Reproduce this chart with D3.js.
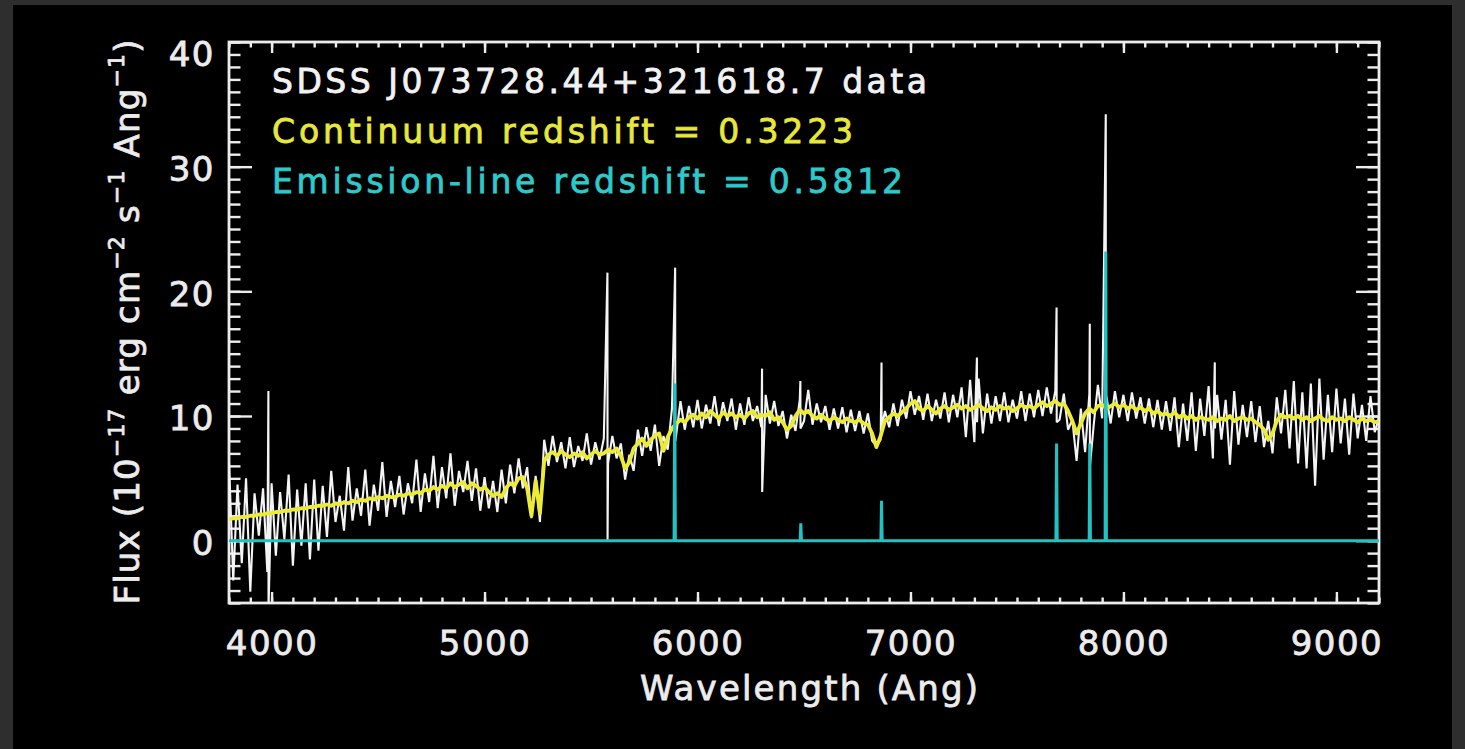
<!DOCTYPE html>
<html><head><meta charset="utf-8">
<script src="https://cdn.jsdelivr.net/npm/d3@7"></script>
<style>html,body{margin:0;padding:0;background:#2e2e2e;} svg{display:block}</style>
</head><body>
<svg id="c" width="1465" height="749"></svg>
<script>
// ---------------- DATA ----------------
const waveStart = 3800, waveStep = 20;   // observed-frame wavelength grid (Ang)
const dataFlux = [
  6.3,-3.2,4.5,-1.8,5.0,-4.1,3.8,0.4,4.2,-2.5,
  4.6,-1.2,3.9,0.1,5.3,-2.0,4.1,-0.4,4.6,-1.5,
  4.9,-0.8,4.4,0.3,5.6,1.5,3.6,0.8,5.9,1.6,
  4.2,2.0,5.7,1.2,4.5,2.4,6.3,1.9,4.8,2.7,
  5.2,2.1,4.6,3.0,6.5,2.3,5.4,3.1,6.8,2.6,
  5.9,3.4,7.0,2.8,5.6,3.9,6.4,3.2,5.8,2.4,
  5.1,2.6,4.8,2.3,5.7,3.0,6.1,3.8,6.6,4.2,
  5.9,1.8,5.2,1.5,8.1,6.0,8.4,6.3,7.9,5.8,
  8.3,5.9,7.6,6.4,8.6,6.1,7.9,6.5,8.2,6.2,
  8.4,6.6,7.8,4.9,6.9,5.6,8.9,6.8,9.1,7.2,
  9.3,6.0,8.4,7.3,10.6,8.5,11.2,8.9,10.8,9.1,
  11.3,9.0,10.9,9.4,11.6,9.2,11.1,9.6,11.4,8.9,
  11.0,9.3,11.5,9.6,10.8,9.1,11.7,9.4,11.2,9.2,
  10.4,8.2,10.1,8.8,11.3,9.6,12.1,9.3,11.0,9.5,
  10.8,8.9,10.6,9.0,10.7,8.7,10.5,8.8,10.4,8.6,
  10.2,8.0,7.6,8.1,10.4,9.1,11.0,9.2,11.3,9.8,
  12.0,10.1,11.6,9.7,11.8,9.6,11.3,9.8,11.9,9.5,
  11.7,9.9,12.3,8.3,12.9,7.9,13.0,8.6,11.8,9.4,
  11.6,9.6,11.9,9.5,11.3,9.8,12.0,9.6,11.8,9.9,
  12.1,10.0,12.3,10.2,12.0,9.7,11.8,8.9,9.7,6.4,
  10.6,7.1,11.8,9.2,12.5,9.8,11.6,9.4,12.0,9.9,
  11.7,9.6,11.9,9.8,11.5,9.4,11.4,9.1,11.3,8.9,
  11.2,8.8,11.5,7.5,11.0,8.0,11.9,7.2,11.4,8.4,
  12.4,6.6,11.7,8.1,11.3,6.1,12.0,7.7,10.9,8.3,
  11.2,7.9,10.8,7.5,9.6,7.0,11.5,8.6,12.1,7.4,
  12.8,6.2,11.9,5.8,12.6,4.4,13.0,6.5,11.7,7.1,
  12.2,7.8,11.4,6.9,11.8,8.2,10.9,8.0,11.6,8.7,
  9.9
];
// narrow spikes (sky lines / emission) in the data
const spikeWave = [3985, 5577, 5895, 6303, 6483, 6864, 7312, 7686, 7842, 7917, 8429];
const spikeHigh = [12.0, 21.5, 21.9, 13.8, 12.8, 14.3, 14.7, 18.7, 17.4, 34.2, 14.3];
const spikeLow  = [-5.5, 0.0, 8.0, 3.9, 9.0, 9.0, 9.5, 9.5, 6.0, 9.5, 9.0];

const contFlux = [
  1.7,1.8,1.8,1.9,1.9,2.0,2.0,2.1,2.1,2.2,
  2.2,2.3,2.3,2.4,2.4,2.5,2.5,2.6,2.6,2.7,
  2.7,2.8,2.8,2.9,2.8,3.0,2.9,3.1,3.0,3.2,
  3.1,3.3,3.2,3.4,3.3,3.5,3.4,3.6,3.5,3.5,
  3.7,3.6,3.8,3.7,3.9,3.8,4.1,4.0,4.3,4.1,
  4.4,4.2,4.6,4.3,4.5,4.7,4.2,4.6,4.4,4.1,
  4.3,3.9,3.6,3.8,3.5,4.2,4.6,4.4,5.0,5.1,
  4.2,2.0,4.8,2.2,6.4,6.9,7.1,6.8,7.2,6.9,
  6.7,7.0,6.8,7.1,6.6,6.9,7.2,6.9,7.0,7.3,
  7.1,7.4,6.8,5.8,6.3,7.4,7.8,8.2,7.6,8.1,
  8.4,8.6,7.2,8.3,9.0,9.4,9.7,9.5,9.9,10.1,
  9.8,10.2,9.9,10.4,10.1,9.8,10.3,10.0,10.2,9.9,
  10.1,9.8,10.2,10.4,9.9,10.1,10.0,10.3,9.7,9.9,
  9.5,8.9,9.2,10.0,10.5,10.2,10.4,10.0,9.8,10.1,
  9.8,9.6,9.9,9.7,9.5,9.8,9.6,9.5,9.7,9.4,
  9.3,8.6,7.5,8.4,9.6,9.9,10.2,10.0,10.3,10.6,
  11.0,11.2,10.6,10.4,10.8,10.5,10.2,10.6,10.8,10.5,
  10.7,10.9,10.6,10.8,10.5,10.7,10.9,10.6,10.4,10.7,
  10.5,10.8,10.6,10.7,10.4,10.6,10.9,10.7,10.8,10.6,
  10.9,11.1,10.8,11.0,11.2,10.9,11.0,10.4,9.6,8.6,
  9.4,10.2,10.6,10.3,10.8,10.9,10.6,10.8,11.0,10.7,
  10.9,10.6,10.8,10.5,10.7,10.4,10.6,10.2,10.4,10.1,
  10.2,10.0,10.3,9.9,10.1,9.8,10.0,9.7,9.9,9.8,
  9.7,9.9,9.6,9.8,9.7,10.0,9.6,9.8,9.9,9.7,
  9.8,9.5,9.3,8.9,8.1,8.6,9.6,10.1,9.9,10.0,
  9.8,10.0,9.7,9.9,9.6,9.8,10.0,9.7,9.6,9.9,
  9.7,9.8,9.6,9.9,9.7,9.5,9.8,9.6,9.7,9.5,
  9.6
];
// emission-line model at z = 0.5812
const lineWave = [5893, 6485, 6864, 7686, 7842, 7917];
const lineFlux = [12.6, 1.4, 3.2, 7.8, 7.8, 23.2];

const xDomain = [3800, 9200];
const yDomain = [-5, 40];
const xMajorTicks = [4000, 5000, 6000, 7000, 8000, 9000];
const yMajorTicks = [0, 10, 20, 30, 40];
const infoLines = ["SDSS J073728.44+321618.7 data", "Continuum redshift = 0.3223", "Emission-line redshift = 0.5812"];
const infoColors = ["#f2f2f2", "#e8e83a", "#2ccaca"];

// ---------------- CHART ----------------
const svg = d3.select("#c");
svg.append("rect").attr("x", 13).attr("y", 5).attr("width", 1439).attr("height", 744).attr("fill", "#000");

const L = 229, R = 1379, T = 42, B = 603;
const x = d3.scaleLinear().domain(xDomain).range([L, R]);
const y = d3.scaleLinear().domain(yDomain).range([B, T]);

svg.append("clipPath").attr("id", "clip").append("rect")
  .attr("x", L).attr("y", T).attr("width", R - L).attr("height", B - T);

// axes first (IDL-style box, inward ticks on all sides); data drawn over them
const axColor = "#ececec";
const xMinor = d3.range(3800, 9201, 100);
const yMinor = d3.range(-5, 41, 1);
function styleAxis(sel) {
  sel.select(".domain").remove();
  sel.selectAll("line").attr("stroke", axColor).attr("stroke-width", 2.4);
  sel.selectAll("text").attr("fill", axColor).attr("font-family", "DejaVu Sans, sans-serif")
    .attr("font-size", 34).attr("letter-spacing", 1.5)
    .attr("stroke", axColor).attr("stroke-width", 0.8);
}
svg.append("g").attr("transform", `translate(0,${B})`)
  .call(d3.axisBottom(x).tickValues(xMinor).tickSize(-5.5).tickFormat("")).call(styleAxis);
svg.append("g").attr("transform", `translate(0,${B})`)
  .call(d3.axisBottom(x).tickValues(xMajorTicks).tickSize(-11).tickPadding(28).tickFormat(d3.format("d"))).call(styleAxis);
svg.append("g").attr("transform", `translate(0,${T})`)
  .call(d3.axisTop(x).tickValues(xMinor).tickSize(-5.5).tickFormat("")).call(styleAxis);
svg.append("g").attr("transform", `translate(0,${T})`)
  .call(d3.axisTop(x).tickValues(xMajorTicks).tickSize(-11).tickFormat("")).call(styleAxis);
svg.append("g").attr("transform", `translate(${L},0)`)
  .call(d3.axisLeft(y).tickValues(yMinor).tickSize(-11.5).tickFormat("")).call(styleAxis);
const yAx = svg.append("g").attr("transform", `translate(${L},0)`)
  .call(d3.axisLeft(y).tickValues(yMajorTicks).tickSize(-23).tickPadding(14).tickFormat(d3.format("d"))).call(styleAxis);
yAx.selectAll("text").attr("y", d => Math.max(3, T + 13 - y(d)));
svg.append("g").attr("transform", `translate(${R},0)`)
  .call(d3.axisRight(y).tickValues(yMinor).tickSize(-11.5).tickFormat("")).call(styleAxis);
svg.append("g").attr("transform", `translate(${R},0)`)
  .call(d3.axisRight(y).tickValues(yMajorTicks).tickSize(-23).tickFormat("")).call(styleAxis);

svg.append("rect").attr("x", L).attr("y", T).attr("width", R - L).attr("height", B - T)
  .attr("fill", "none").attr("stroke", axColor).attr("stroke-width", 2.8);

// build data series
let dataPts = dataFlux.map((f, i) => ({w: waveStart + i * waveStep, f}));
spikeWave.forEach((w, i) => {
  dataPts.push({w: w, f: spikeHigh[i]});
  dataPts.push({w: w + 0.6, f: spikeLow[i]});
});
dataPts.sort((a, b) => a.w - b.w);
const contPts = contFlux.map((f, i) => ({w: waveStart + i * waveStep, f}));
let linePts = [{w: xDomain[0], f: 0}];
lineWave.forEach((w, i) => {
  linePts.push({w: w - 3, f: 0}, {w: w, f: lineFlux[i]}, {w: w + 3, f: 0});
});
linePts.push({w: xDomain[1], f: 0});

const line = d3.line().x(d => x(d.w)).y(d => y(d.f));
const g = svg.append("g").attr("clip-path", "url(#clip)");
g.append("path").datum(dataPts).attr("d", line).attr("fill", "none")
  .attr("stroke", "#f4f4f4").attr("stroke-width", 2.1).attr("stroke-linejoin", "bevel");
g.append("path").datum(contPts).attr("d", line).attr("fill", "none")
  .attr("stroke", "#ecec38").attr("stroke-width", 3.8).attr("stroke-linejoin", "round");
g.append("path").datum(linePts).attr("d", line).attr("fill", "none")
  .attr("stroke", "#22c2c2").attr("stroke-width", 3).attr("stroke-linejoin", "bevel");

// axis titles
const textStroke = sel => sel.attr("stroke", sel.attr("fill")).attr("stroke-width", 0.8);
svg.append("text").attr("x", (L + R) / 2 + 5).attr("y", 700).attr("text-anchor", "middle")
  .attr("fill", axColor).attr("font-family", "DejaVu Sans, sans-serif").attr("font-size", 34)
  .attr("textLength", 338).attr("lengthAdjust", "spacing").call(textStroke).text("Wavelength (Ang)");

const yt = svg.append("text").attr("transform", "translate(139,322) rotate(-90)")
  .attr("text-anchor", "middle").attr("fill", axColor)
  .attr("font-family", "DejaVu Sans, sans-serif").attr("font-size", 34).call(textStroke);
const parts = [["Flux (10", 0], ["\u221217", 1], [" erg cm", 0], ["\u22122", 1], [" s", 0], ["\u22121", 1], [" Ang", 0], ["\u22121", 1], [")", 0]];
let prevSup = false;
parts.forEach(([t, sup]) => {
  const ts = yt.append("tspan").text(t);
  if (sup) { ts.attr("font-size", 22).attr("dy", -15); prevSup = true; }
  else if (prevSup) { ts.attr("dy", 15); prevSup = false; }
});
yt.attr("textLength", 565).attr("lengthAdjust", "spacing");

// info text
infoLines.forEach((t, i) => {
  svg.append("text").attr("x", 272).attr("y", 93 + i * 50)
    .attr("fill", infoColors[i]).attr("font-family", "DejaVu Sans, sans-serif").attr("font-size", 33)
    .call(textStroke)
    .attr("textLength", [655, 581, 631][i]).attr("lengthAdjust", "spacing").text(t);
});
</script>
</body></html>
